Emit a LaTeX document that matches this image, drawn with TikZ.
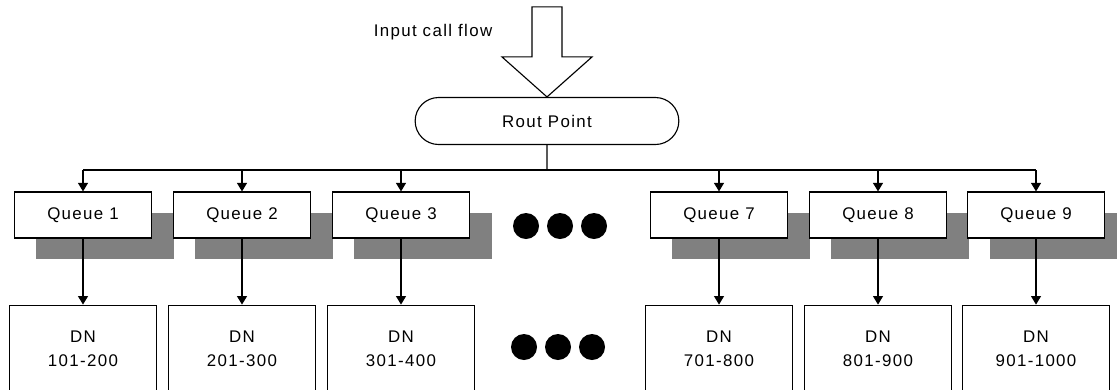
\documentclass[tikz,border=0pt]{standalone}
\usepackage{fontspec}
\setmainfont{Liberation Sans}[LetterSpace=8]
\usetikzlibrary{positioning,shapes.misc,shadows,arrows.meta}
\definecolor{shadowgray}{RGB}{128,128,128}

\tikzset{
	queue/.style={draw, fill=white, line width=0.8pt, minimum width=3.425cm, minimum height=1.15cm, inner sep=0pt,
		font=\fontsize{12}{17}\selectfont,
		drop shadow={shadow xshift=0.55cm, shadow yshift=-0.525cm, fill=shadowgray, opacity=1}},
	dn/.style={draw, line width=0.8pt, minimum width=3.675cm, minimum height=2.2cm, inner sep=0pt, align=center,
		font=\fontsize{12}{17}\selectfont},
	rout/.style={draw, rounded rectangle, line width=0.8pt, minimum width=6.825cm, minimum height=1.175cm,
		font=\fontsize{12}{17}\selectfont},
	dot/.style={circle, fill=black, minimum size=0.65cm, inner sep=0pt},
	flow/.style={-{Triangle[width=7pt,length=6pt]}, line width=0.8pt},
}

\begin{document}
\begin{tikzpicture}[x=0.025cm, y=-0.025cm]
	\useasboundingbox (0,0) rectangle (1117,389);
	\clip (0,0) rectangle (1117,389);
	% Define nodes
	\node[rout] (rp) at (547,121) {Rout Point};
	\node[font=\fontsize{12}{17}\selectfont] (input) at (433,32) {Input call flow};
	\coordinate (bus) at (547,170);
	\node[queue] (q1) at (83,215)   {Queue 1};
	\node[queue] (q2) at (242,215)  {Queue 2};
	\node[queue] (q3) at (401,215)  {Queue 3};
	\node[queue] (q7) at (719,215)  {Queue 7};
	\node[queue] (q8) at (878,215)  {Queue 8};
	\node[queue] (q9) at (1036,215) {Queue 9};
	\node[dn, below=1.65cm of q1] (dn1) {DN\\101-200};
	\node[dn, below=1.65cm of q2] (dn2) {DN\\201-300};
	\node[dn, below=1.65cm of q3] (dn3) {DN\\301-400};
	\node[dn, below=1.65cm of q7] (dn7) {DN\\701-800};
	\node[dn, below=1.65cm of q8] (dn8) {DN\\801-900};
	\node[dn, below=1.65cm of q9] (dn9) {DN\\901-1000};
	% dots
	\node[dot] (u1) at (526,226) {};
	\node[dot] (u2) at (560,226) {};
	\node[dot] (u3) at (594,226) {};
	\node[dot] (l1) at (524,347) {};
	\node[dot] (l2) at (558,347) {};
	\node[dot] (l3) at (592,347) {};
	% Input arrow
	\draw[line width=0.8pt] (rp.north) -- ++(-45,-40) -- ++(30,0) -- ++(0,-50) -- ++(30,0)
		-- ++(0,50) -- ++(30,0) -- cycle;
	% Connect the nodes
	\draw[line width=0.8pt] (rp) -- (bus);
	\draw[line width=0.8pt] (q1 |- bus) -- (q9 |- bus);
	\draw[flow] (q1 |- bus) -- (q1);
	\draw[flow] (q2 |- bus) -- (q2);
	\draw[flow] (q3 |- bus) -- (q3);
	\draw[flow] (q7 |- bus) -- (q7);
	\draw[flow] (q8 |- bus) -- (q8);
	\draw[flow] (q9 |- bus) -- (q9);
	\draw[flow] (q1) -- (dn1);
	\draw[flow] (q2) -- (dn2);
	\draw[flow] (q3) -- (dn3);
	\draw[flow] (q7) -- (dn7);
	\draw[flow] (q8) -- (dn8);
	\draw[flow] (q9) -- (dn9);
\end{tikzpicture}
\end{document}
